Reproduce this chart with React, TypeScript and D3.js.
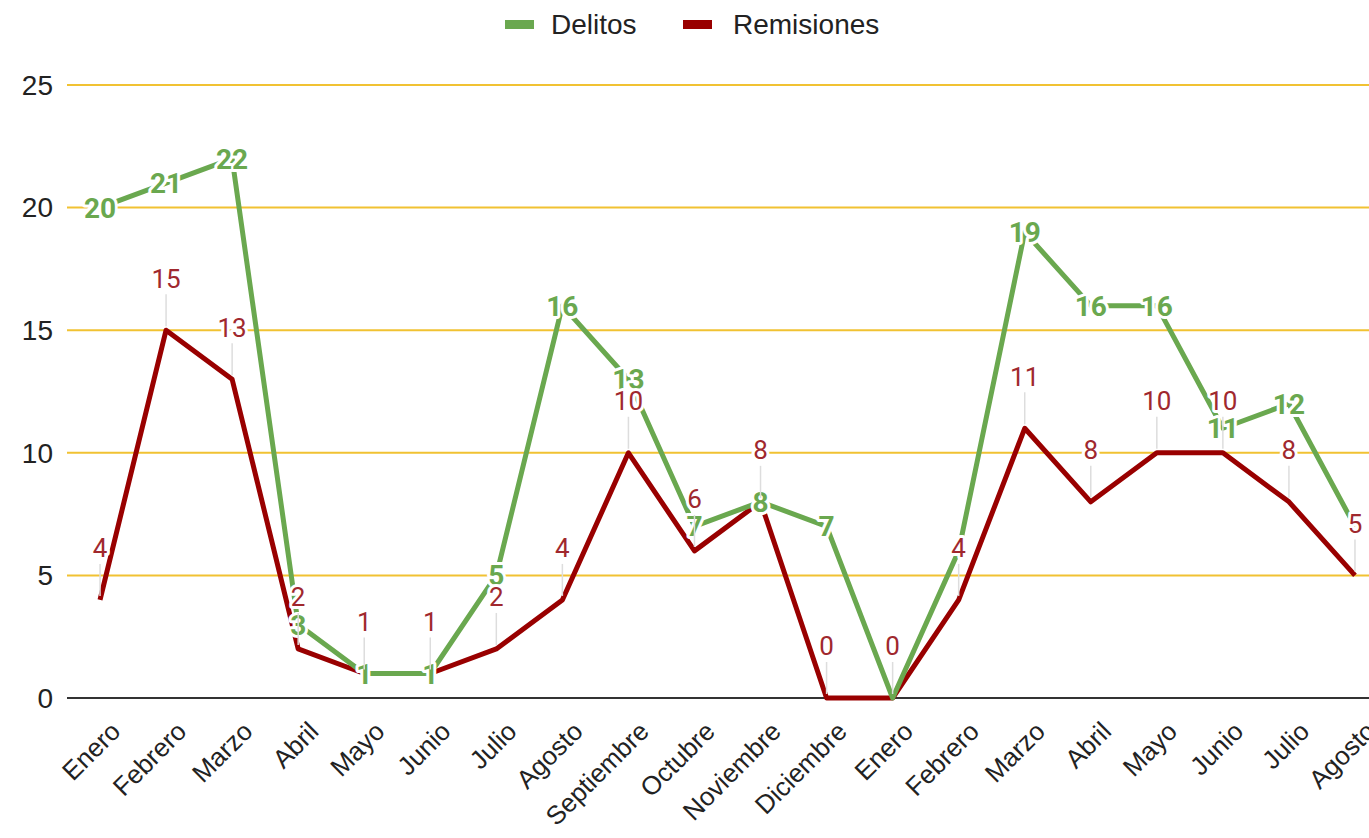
import * as d3 from "d3";
import React from "react";

const months = [
  "Enero", "Febrero", "Marzo", "Abril", "Mayo", "Junio", "Julio", "Agosto",
  "Septiembre", "Octubre", "Noviembre", "Diciembre",
  "Enero", "Febrero", "Marzo", "Abril", "Mayo", "Junio", "Julio", "Agosto",
];
const delitos = [20, 21, 22, 3, 1, 1, 5, 16, 13, 7, 8, 7, 0, 6, 19, 16, 16, 11, 12, 7];
const remisiones = [4, 15, 13, 2, 1, 1, 2, 4, 10, 6, 8, 0, 0, 4, 11, 8, 10, 10, 8, 5];
const yTicks = [0, 5, 10, 15, 20, 25];
// labels the original chart drops because they collide
const hiddenDelitosLabels = [12, 13, 19];

const GREEN = "#6aa84f";
const RED = "#990000";
const RED_TEXT = "#a0282e";
const W = 1369;
const H = 838;

const App = () => {
  const x = d3
    .scaleBand<number>()
    .domain(months.map((_, i) => i))
    .range([67, 67 + 66.05 * months.length]);
  const cx = (i: number) => x(i)! + x.bandwidth() / 2;
  const y = d3.scaleLinear().domain([0, 25]).range([698, 85]);

  const line = d3
    .line<number>()
    .x((_, i) => cx(i))
    .y((d) => y(d));

  const halo = { stroke: "#fff", strokeWidth: 6, paintOrder: "stroke" as const, strokeLinejoin: "round" as const };

  return (
    <svg width={W} height={H} style={{ position: "absolute", left: 0, top: 0, background: "#fff" }}>
      {/* legend */}
      <g fontFamily="Liberation Sans, Arial, sans-serif" fontSize={28} fill="#222">
        <rect x={505} y={20} width={29} height={9} fill={GREEN} />
        <text x={551} y={34}>Delitos</text>
        <rect x={683} y={20} width={29} height={9} fill={RED} />
        <text x={733} y={34}>Remisiones</text>
      </g>

      {/* grid + y axis */}
      <g fontFamily="Liberation Sans, Arial, sans-serif" fontSize={28} fill="#222">
        {yTicks.map((t) => (
          <g key={t}>
            <line
              x1={67}
              x2={W}
              y1={y(t)}
              y2={y(t)}
              stroke={t === 0 ? "#333" : "#f1c232"}
              strokeWidth={2}
            />
            <text x={53} y={y(t)} dy="0.35em" textAnchor="end">
              {t}
            </text>
          </g>
        ))}
      </g>

      {/* x axis labels */}
      <g fontFamily="Liberation Sans, Arial, sans-serif" fontSize={26} fill="#222">
        {months.map((m, i) => (
          <text
            key={i}
            textAnchor="end"
            transform={`translate(${cx(i) + 22},${733}) rotate(-45)`}
          >
            {m}
          </text>
        ))}
      </g>

      {/* lines */}
      <path d={line(remisiones)!} fill="none" stroke={RED} strokeWidth={5} strokeLinejoin="round" />
      <path d={line(delitos)!} fill="none" stroke={GREEN} strokeWidth={5} strokeLinejoin="round" />

      {/* delitos labels */}
      <g fontFamily="Roboto, sans-serif" fontSize={28} fontWeight="bold" fill={GREEN} textAnchor="middle">
        {delitos.map((v, i) =>
          hiddenDelitosLabels.includes(i) ? null : (
            <text key={i} x={cx(i)} y={y(v)} dy="0.36em" {...halo}>
              {v}
            </text>
          ),
        )}
      </g>

      {/* remisiones labels with leader lines */}
      <g fontFamily="Roboto, sans-serif" fontSize={26} fill={RED_TEXT} textAnchor="middle">
        {remisiones.map((v, i) => (
          <g key={i}>
            <line x1={cx(i)} x2={cx(i)} y1={y(v) - 4} y2={y(v) - 36} stroke="#ddd" strokeWidth={1.5} />
            <text x={cx(i)} y={y(v) - 52} dy="0.36em" {...halo}>
              {v}
            </text>
          </g>
        ))}
      </g>
    </svg>
  );
};

export default App;
